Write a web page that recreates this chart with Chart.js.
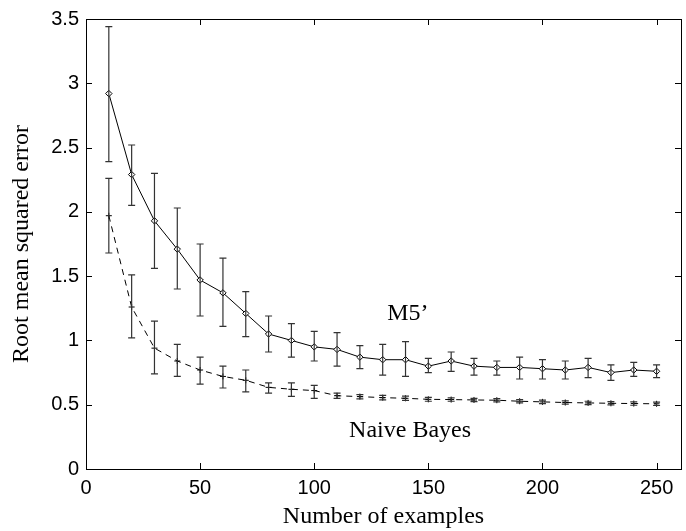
<!DOCTYPE html>
<html>
<head>
<meta charset="utf-8">
<script src="https://cdn.jsdelivr.net/npm/chart.js@4/dist/chart.umd.min.js"></script>
<style>
  html, body { margin: 0; padding: 0; background: #fff; }
  #wrap { width: 686px; height: 531px; }
</style>
</head>
<body>
<div id="wrap"><canvas id="myChart" width="686" height="531"></canvas></div>
<script>
// number of training examples
var examples = [10, 20, 30, 40, 50, 60, 70, 80, 90, 100, 110, 120, 130, 140, 150,
                160, 170, 180, 190, 200, 210, 220, 230, 240, 250];

// M5' : mean RMSE with error bar ends
var m5Mean = [2.92, 2.29, 1.93, 1.71, 1.47, 1.37, 1.21, 1.05, 1.00, 0.95, 0.93, 0.87, 0.85, 0.85, 0.80,
              0.84, 0.80, 0.79, 0.79, 0.78, 0.77, 0.79, 0.75, 0.77, 0.76];
var m5Hi   = [3.44, 2.52, 2.30, 2.03, 1.75, 1.64, 1.38, 1.19, 1.13, 1.07, 1.06, 0.96, 0.97, 0.99, 0.86,
              0.91, 0.86, 0.84, 0.87, 0.85, 0.84, 0.86, 0.81, 0.83, 0.81];
var m5Lo   = [2.39, 2.05, 1.56, 1.40, 1.19, 1.11, 1.03, 0.91, 0.87, 0.84, 0.80, 0.78, 0.73, 0.72, 0.75,
              0.76, 0.73, 0.73, 0.70, 0.70, 0.70, 0.71, 0.69, 0.72, 0.71];

// Naive Bayes
var nbMean = [1.97, 1.26, 0.94, 0.84, 0.77, 0.72, 0.69, 0.635, 0.62, 0.61, 0.57, 0.563, 0.555, 0.55, 0.542,
              0.54, 0.537, 0.535, 0.527, 0.522, 0.517, 0.514, 0.511, 0.509, 0.507];
var nbHi   = [2.26, 1.51, 1.15, 0.97, 0.87, 0.80, 0.77, 0.67, 0.67, 0.65, 0.59, 0.578, 0.572, 0.567, 0.557,
              0.553, 0.55, 0.548, 0.54, 0.535, 0.53, 0.527, 0.524, 0.522, 0.52];
var nbLo   = [1.68, 1.02, 0.74, 0.72, 0.66, 0.63, 0.60, 0.59, 0.565, 0.55, 0.55, 0.545, 0.538, 0.533, 0.527,
              0.527, 0.524, 0.522, 0.514, 0.509, 0.504, 0.501, 0.498, 0.496, 0.494];

var xTickLabels = [0, 50, 100, 150, 200, 250];
var yTickLabels = [0, 0.5, 1, 1.5, 2, 2.5, 3, 3.5];
var seriesNames = ["M5\u2019", "Naive Bayes"];
var xTitle = "Number of examples";
var yTitle = "Root mean squared error";

function pts(ys) {
  return examples.map(function (x, i) { return { x: x, y: ys[i] }; });
}

// error bars, drawn through the scales
var errorBars = {
  id: 'errorBars',
  afterDatasetsDraw: function (chart) {
    var ctx = chart.ctx, xs = chart.scales.x, ys = chart.scales.y;
    var sets = [[m5Lo, m5Hi], [nbLo, nbHi]];
    ctx.save();
    ctx.strokeStyle = '#333';
    ctx.lineWidth = 1.2;
    sets.forEach(function (s) {
      examples.forEach(function (x, i) {
        var px = xs.getPixelForValue(x);
        var y1 = ys.getPixelForValue(s[0][i]);
        var y2 = ys.getPixelForValue(s[1][i]);
        ctx.beginPath();
        ctx.moveTo(px, y1); ctx.lineTo(px, y2);
        ctx.moveTo(px - 3.5, y1); ctx.lineTo(px + 3.5, y1);
        ctx.moveTo(px - 3.5, y2); ctx.lineTo(px + 3.5, y2);
        ctx.stroke();
      });
    });
    ctx.restore();
  }
};

// box frame with inward ticks on all four sides, plus the curve labels
var frame = {
  id: 'frame',
  afterDraw: function (chart) {
    var ctx = chart.ctx, a = chart.chartArea, xs = chart.scales.x, ys = chart.scales.y;
    ctx.save();
    ctx.strokeStyle = '#000';
    ctx.lineWidth = 1;
    ctx.strokeRect(Math.round(a.left) + 0.5, Math.round(a.top) + 0.5,
                   Math.round(a.right - a.left), Math.round(a.bottom - a.top));
    ctx.beginPath();
    xTickLabels.forEach(function (v) {
      var px = Math.round(xs.getPixelForValue(v)) + 0.5;
      ctx.moveTo(px, a.bottom); ctx.lineTo(px, a.bottom - 6);
      ctx.moveTo(px, a.top); ctx.lineTo(px, a.top + 6);
    });
    yTickLabels.forEach(function (v) {
      var py = Math.round(ys.getPixelForValue(v)) + 0.5;
      ctx.moveTo(a.left, py); ctx.lineTo(a.left + 6, py);
      ctx.moveTo(a.right, py); ctx.lineTo(a.right - 6, py);
    });
    ctx.stroke();

    ctx.fillStyle = '#000';
    ctx.font = '24px "Liberation Serif", "Times New Roman", serif';
    ctx.textAlign = 'center';
    ctx.textBaseline = 'middle';
    ctx.fillText(seriesNames[0], xs.getPixelForValue(141), ys.getPixelForValue(1.21));
    ctx.fillText(seriesNames[1], xs.getPixelForValue(142), ys.getPixelForValue(0.30));
    ctx.restore();
  }
};

var ctx = document.getElementById('myChart').getContext('2d');
var myChart = new Chart(ctx, {
  type: 'line',
  data: {
    datasets: [{
      label: seriesNames[0],
      data: pts(m5Mean),
      borderColor: '#000',
      borderWidth: 1,
      pointStyle: 'rectRot',
      pointRadius: 3.2,
      pointBackgroundColor: '#fff',
      pointBorderColor: '#000',
      pointBorderWidth: 1,
      tension: 0
    }, {
      label: seriesNames[1],
      data: pts(nbMean),
      borderColor: '#000',
      borderWidth: 1,
      borderDash: [6, 5],
      pointStyle: 'cross',
      pointRadius: 3,
      pointBorderColor: '#000',
      pointBorderWidth: 1,
      tension: 0
    }]
  },
  options: {
    responsive: false,
    animation: false,
    layout: { padding: { top: 15, right: -3, left: 0, bottom: 0 } },
    plugins: { legend: { display: false }, tooltip: { enabled: false } },
    scales: {
      x: {
        type: 'linear',
        min: 0,
        max: 260.7,
        afterFit: function (s) { s.height = 62; },
        afterBuildTicks: function (s) {
          s.ticks = xTickLabels.map(function (v) { return { value: v }; });
        },
        grid: { display: false, drawTicks: false },
        border: { display: false },
        ticks: {
          autoSkip: false,
          padding: 7,
          color: '#000',
          maxRotation: 0,
          font: { family: '"Liberation Sans", Arial, sans-serif', size: 20 },
          callback: function (v) { return String(v); }
        },
        title: {
          display: true,
          text: xTitle,
          color: '#000',
          padding: { top: 0, bottom: 0 },
          font: { family: '"Liberation Serif", "Times New Roman", serif', size: 24 }
        }
      },
      y: {
        min: 0,
        max: 3.5,
        afterFit: function (s) { s.width = 86; },
        afterBuildTicks: function (s) {
          s.ticks = yTickLabels.map(function (v) { return { value: v }; });
        },
        grid: { display: false, drawTicks: false },
        border: { display: false },
        ticks: {
          autoSkip: false,
          padding: 7,
          color: '#000',
          font: { family: '"Liberation Sans", Arial, sans-serif', size: 20 },
          callback: function (v) { return String(v); }
        },
        title: {
          display: true,
          text: yTitle,
          color: '#000',
          padding: { top: 7, bottom: 0 },
          font: { family: '"Liberation Serif", "Times New Roman", serif', size: 24 }
        }
      }
    }
  },
  plugins: [errorBars, frame]
});
</script>
</body>
</html>
